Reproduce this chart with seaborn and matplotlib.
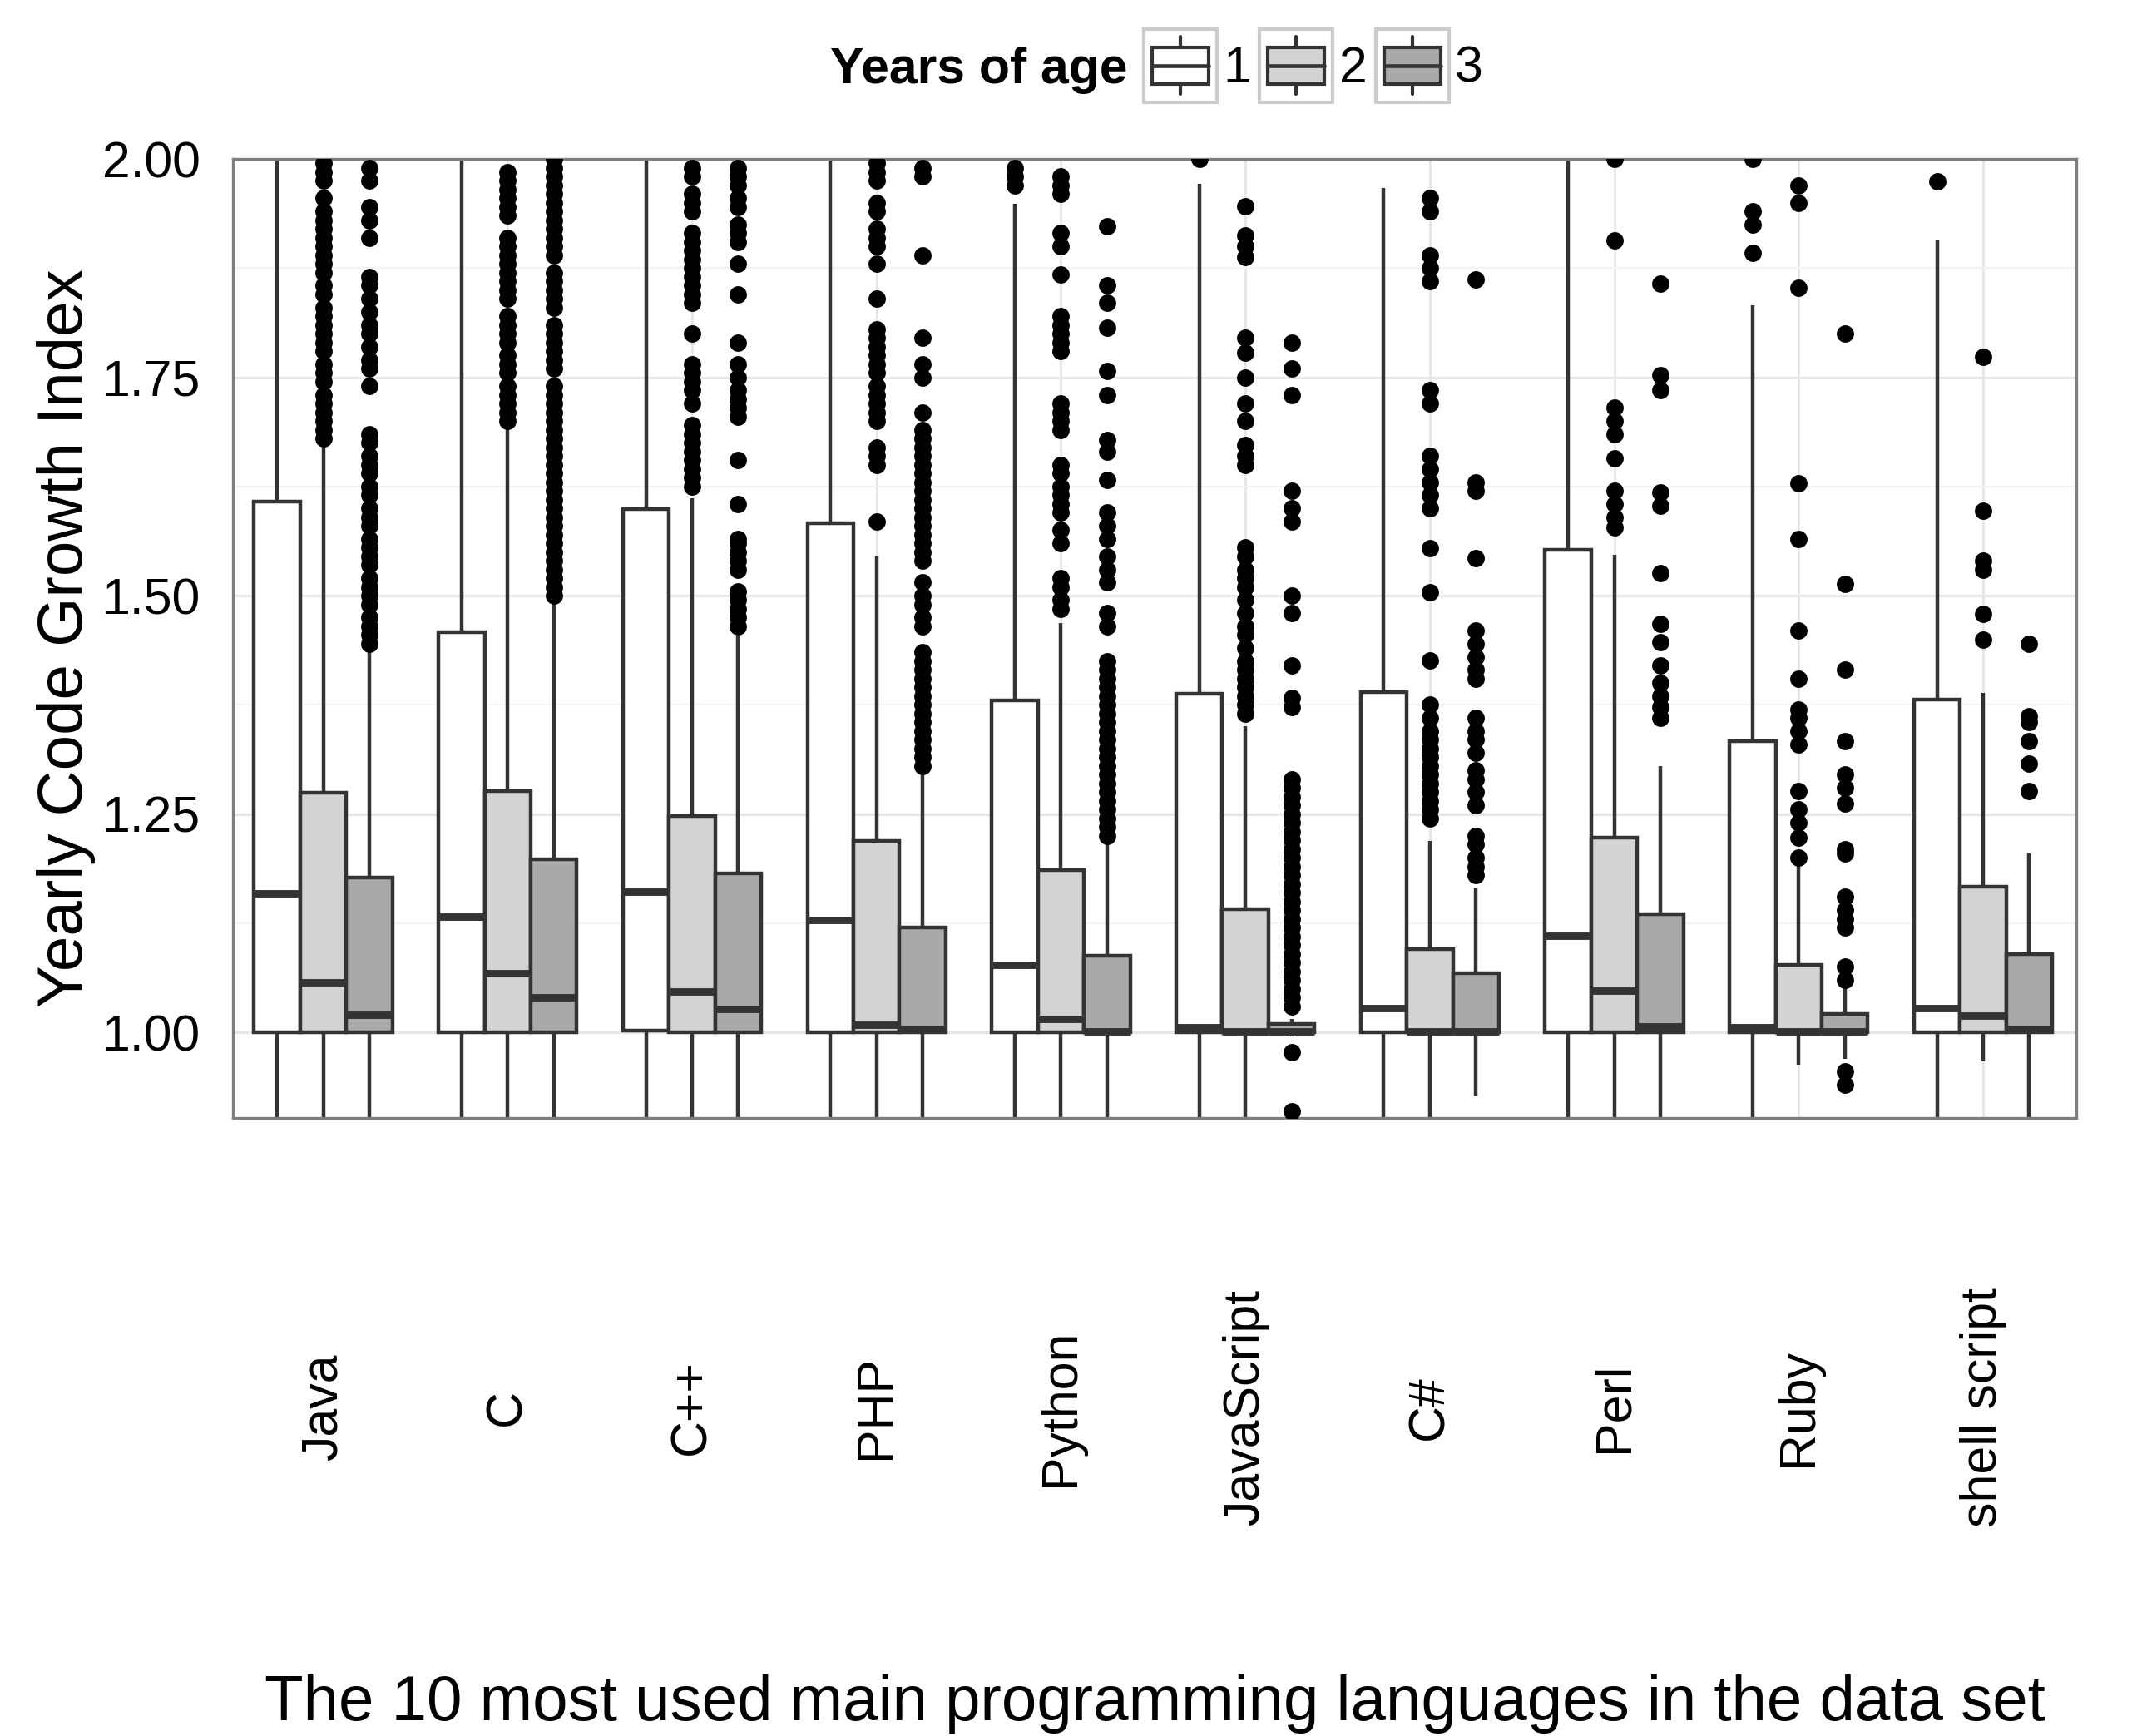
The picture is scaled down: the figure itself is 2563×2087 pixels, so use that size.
"""Yearly code growth index by language and years of age (boxplots)"""
import numpy as np
import pandas as pd
import matplotlib
matplotlib.use("Agg")
import matplotlib.pyplot as plt
from matplotlib.legend_handler import HandlerBase
from matplotlib.patches import Patch, Rectangle
from matplotlib.lines import Line2D
from matplotlib.ticker import MultipleLocator
import seaborn as sns

# ─── data ───
langs = ["Java", "C", "C++", "PHP", "Python", "JavaScript", "C#", "Perl", "Ruby", "shell script"]
ages = ["1", "2", "3"]
fills = ["#FFFFFF", "#D3D3D3", "#A9A9A9"]

# five-number summary per language, [age 1, age 2, age 3]
# (whiskers that leave the visible window are set just outside it)
whis_lo = [[0.85, 0.85, 0.85], [0.85, 0.85, 0.85], [0.85, 0.85, 0.85], [0.85, 0.85, 0.85],
           [0.85, 0.85, 0.85], [0.85, 0.85, 0.995], [0.85, 0.85, 0.927], [0.85, 0.85, 0.85],
           [0.85, 0.963, 0.970], [0.85, 0.967, 0.85]]
q1 = [[1.0, 1.0, 1.0], [1.0, 1.0, 1.0], [1.002, 1.0, 1.0], [1.0, 1.0, 1.0], [1.0, 1.0, 1.0],
      [1.0, 1.0, 1.0], [1.0, 1.0, 1.0], [1.0, 1.0, 1.0], [1.0, 1.0, 1.0], [1.0, 1.0, 1.0]]
med = [[1.159, 1.057, 1.020], [1.132, 1.068, 1.040], [1.161, 1.047, 1.027], [1.129, 1.009, 1.004],
       [1.077, 1.015, 1.001], [1.006, 1.001, 1.001], [1.028, 1.001, 1.001], [1.111, 1.048, 1.007],
       [1.006, 1.001, 1.001], [1.028, 1.019, 1.004]]
q3 = [[1.608, 1.274, 1.177], [1.458, 1.276, 1.198], [1.599, 1.248, 1.182], [1.583, 1.219, 1.120],
      [1.380, 1.186, 1.088], [1.388, 1.141, 1.010], [1.390, 1.095, 1.068], [1.552, 1.223, 1.135],
      [1.333, 1.077, 1.021], [1.381, 1.167, 1.090]]
whis_hi = [[2.05, 1.675, 1.440], [2.05, 1.693, 1.494], [2.05, 1.611, 1.454], [2.05, 1.546, 1.298],
           [1.949, 1.469, 1.216], [1.971, 1.351, 1.015], [1.967, 1.219, 1.166], [2.05, 1.547, 1.305],
           [1.832, 1.191, 1.052], [1.908, 1.389, 1.205]]

# outliers visible inside the window, [age 1, age 2, age 3]
out_java = [[],
            [1.68, 1.69, 1.70, 1.71, 1.72, 1.73, 1.745, 1.755, 1.765, 1.78, 1.79, 1.80, 1.81, 1.82,
             1.83, 1.845, 1.855, 1.87, 1.88, 1.89, 1.90, 1.91, 1.92, 1.93, 1.94, 1.955, 1.975,
             1.985, 1.995],
            [1.445, 1.455, 1.465, 1.475, 1.49, 1.50, 1.51, 1.52, 1.535, 1.545, 1.555, 1.565, 1.58,
             1.59, 1.60, 1.615, 1.625, 1.64, 1.65, 1.66, 1.675, 1.685, 1.74, 1.76, 1.77, 1.785,
             1.80, 1.81, 1.825, 1.84, 1.855, 1.865, 1.91, 1.93, 1.945, 1.975, 1.99]]
out_c = [[],
         [1.70, 1.71, 1.72, 1.73, 1.74, 1.755, 1.765, 1.775, 1.79, 1.80, 1.81, 1.82, 1.84, 1.85,
          1.86, 1.87, 1.88, 1.89, 1.90, 1.91, 1.935, 1.945, 1.955, 1.965, 1.975, 1.985],
         [1.50, 1.51, 1.52, 1.53, 1.54, 1.55, 1.56, 1.57, 1.58, 1.59, 1.60, 1.61, 1.62, 1.63, 1.64,
          1.65, 1.66, 1.67, 1.68, 1.69, 1.70, 1.71, 1.72, 1.73, 1.74, 1.76, 1.77, 1.78, 1.79, 1.80,
          1.81, 1.83, 1.84, 1.85, 1.86, 1.87, 1.89, 1.90, 1.91, 1.92, 1.93, 1.94, 1.95, 1.96,
          1.97, 1.98, 1.99, 2.0]]
out_cpp = [[],
           [1.625, 1.635, 1.645, 1.655, 1.665, 1.675, 1.685, 1.695, 1.72, 1.735, 1.745, 1.755,
            1.765, 1.80, 1.835, 1.845, 1.855, 1.865, 1.875, 1.885, 1.895, 1.905, 1.915, 1.94,
            1.95, 1.96, 1.98, 1.99],
           [1.465, 1.475, 1.485, 1.495, 1.505, 1.53, 1.54, 1.55, 1.56, 1.565, 1.605, 1.655, 1.705,
            1.715, 1.725, 1.735, 1.75, 1.765, 1.79, 1.845, 1.88, 1.905, 1.915, 1.925, 1.945,
            1.955, 1.97, 1.98, 1.99]]
out_php = [[],
           [1.585, 1.65, 1.66, 1.67, 1.70, 1.71, 1.72, 1.73, 1.74, 1.755, 1.765, 1.775, 1.785,
            1.795, 1.805, 1.84, 1.88, 1.90, 1.91, 1.92, 1.94, 1.95, 1.975, 1.985, 1.995],
           [1.305, 1.315, 1.325, 1.335, 1.345, 1.355, 1.365, 1.375, 1.385, 1.395, 1.405, 1.415,
            1.425, 1.435, 1.465, 1.475, 1.49, 1.50, 1.515, 1.54, 1.55, 1.56, 1.57, 1.58, 1.59,
            1.60, 1.61, 1.62, 1.63, 1.64, 1.65, 1.66, 1.67, 1.68, 1.69, 1.71, 1.75, 1.765, 1.795,
            1.89, 1.98, 1.99]]
out_python = [[1.97, 1.98, 1.99],
              [1.485, 1.495, 1.51, 1.52, 1.56, 1.575, 1.595, 1.605, 1.615, 1.625, 1.64, 1.65,
               1.69, 1.70, 1.71, 1.72, 1.78, 1.79, 1.80, 1.81, 1.82, 1.868, 1.90, 1.915, 1.96,
               1.97, 1.98],
              [1.225, 1.235, 1.245, 1.255, 1.265, 1.275, 1.285, 1.295, 1.305, 1.315, 1.325, 1.335,
               1.345, 1.355, 1.365, 1.375, 1.385, 1.395, 1.405, 1.415, 1.425, 1.465, 1.48, 1.515,
               1.53, 1.545, 1.565, 1.58, 1.595, 1.632, 1.665, 1.678, 1.73, 1.757, 1.807, 1.835,
               1.855, 1.923]]
out_js = [[2.0],
          [1.365, 1.375, 1.385, 1.395, 1.405, 1.415, 1.425, 1.44, 1.455, 1.465, 1.48, 1.495, 1.51,
           1.52, 1.53, 1.545, 1.555, 1.65, 1.66, 1.672, 1.70, 1.72, 1.75, 1.778, 1.795, 1.888,
           1.90, 1.912, 1.946],
          [0.91, 0.977, 1.03, 1.04, 1.05, 1.06, 1.07, 1.08, 1.09, 1.10, 1.11, 1.12, 1.13, 1.14,
           1.15, 1.16, 1.17, 1.18, 1.19, 1.20, 1.21, 1.22, 1.23, 1.24, 1.25, 1.26, 1.27, 1.28,
           1.29, 1.372, 1.383, 1.42, 1.48, 1.50, 1.585, 1.60, 1.62, 1.73, 1.76, 1.79]]
out_cs = [[],
          [1.245, 1.255, 1.265, 1.275, 1.285, 1.295, 1.305, 1.315, 1.325, 1.335, 1.345, 1.36,
           1.375, 1.426, 1.504, 1.554, 1.60, 1.615, 1.63, 1.645, 1.66, 1.72, 1.735, 1.86, 1.875,
           1.89, 1.94, 1.955],
          [1.18, 1.19, 1.20, 1.215, 1.225, 1.26, 1.275, 1.29, 1.30, 1.32, 1.335, 1.345, 1.36,
           1.405, 1.415, 1.43, 1.445, 1.46, 1.543, 1.62, 1.63, 1.862]]
out_perl = [[],
            [1.578, 1.59, 1.605, 1.62, 1.657, 1.685, 1.70, 1.715, 1.907, 2.0],
            [1.36, 1.372, 1.385, 1.40, 1.42, 1.447, 1.468, 1.526, 1.603, 1.618, 1.735, 1.752,
             1.857]]
out_ruby = [[1.892, 1.925, 1.94, 2.0],
            [1.20, 1.223, 1.24, 1.255, 1.276, 1.33, 1.345, 1.36, 1.37, 1.405, 1.46, 1.565, 1.629,
             1.852, 1.95, 1.97],
            [0.94, 0.955, 1.06, 1.075, 1.12, 1.13, 1.14, 1.155, 1.205, 1.21, 1.262, 1.28, 1.295,
             1.333, 1.415, 1.513, 1.80]]
out_shell = [[1.974],
             [1.45, 1.479, 1.53, 1.54, 1.597, 1.773],
             [1.276, 1.308, 1.333, 1.355, 1.362, 1.445]]
outliers = [out_java, out_c, out_cpp, out_php, out_python, out_js, out_cs, out_perl,
            out_ruby, out_shell]

# ─── long tables for seaborn ───
BOX_WIDTH = 0.75  # dodge width shared by the three ages
rows = []
for i, lang in enumerate(langs):
    for j, age in enumerate(ages):
        for v in (whis_lo[i][j], q1[i][j], med[i][j], q3[i][j], whis_hi[i][j]):
            rows.append((lang, age, v))
box_df = pd.DataFrame(rows, columns=["lang", "age", "value"])

step = BOX_WIDTH / len(ages)
frows = []
for i, lang in enumerate(langs):
    for j, age in enumerate(ages):
        for v in outliers[i][j]:
            frows.append((lang, age, v, i + (j - 1) * step))
flier_df = pd.DataFrame(frows, columns=["lang", "age", "value", "xpos"])

# ─── style ───
sns.set_style("white")
plt.rcParams["font.family"] = ["Liberation Sans", "DejaVu Sans"]
plt.rcParams["text.color"] = "black"
plt.rcParams["axes.labelcolor"] = "black"
plt.rcParams["xtick.color"] = "black"
plt.rcParams["ytick.color"] = "black"
LINE = "#333333"
BASE = 14.6

fig = plt.figure(figsize=(2563 / 300, 2087 / 300), dpi=300)
ax = fig.add_axes([280 / 2563, 1 - 1344 / 2087, 2216 / 2563, 1153 / 2087])

sns.boxplot(data=box_df, x="lang", y="value", hue="age", order=langs, hue_order=ages,
            palette=dict(zip(ages, fills)), saturation=1, width=BOX_WIDTH, gap=0,
            whis=np.inf, showcaps=False, showfliers=False, linecolor=LINE, linewidth=1.07,
            medianprops={"linewidth": 2.13, "color": LINE}, legend=False, ax=ax)
sns.scatterplot(data=flier_df, x="xpos", y="value", color="black", s=25, linewidth=0,
                legend=False, ax=ax, zorder=4)

ax.set_xlim(-0.49, 9.505)
ax.set_ylim(0.902, 2.0)
ax.set_xticks(range(len(langs)))
ax.set_xticklabels(langs, rotation=90, va="center", ha="center", fontsize=BASE, color="black")
ax.set_yticks([1.0, 1.25, 1.5, 1.75, 2.0])
ax.set_yticklabels([f"{t:.2f}" for t in [1.0, 1.25, 1.5, 1.75, 2.0]], fontsize=BASE,
                   color="black")
ax.yaxis.set_minor_locator(MultipleLocator(0.125))
ax.set_xlabel("")
ax.set_ylabel("")

ax.set_axisbelow(True)
ax.grid(which="major", axis="both", color="#E6E6E6", linewidth=0.7)
ax.grid(which="minor", axis="y", color="#F3F3F3", linewidth=0.5)
for s in ax.spines.values():
    s.set_color("#7F7F7F")
    s.set_linewidth(0.8)
ax.tick_params(which="major", length=4.5, width=1.0, color=LINE, labelcolor="black")
ax.tick_params(axis="y", which="major", pad=5)
ax.tick_params(axis="x", which="major", pad=79)
ax.tick_params(which="minor", length=0)

# axis titles
fig.text(79.5 / 2563, 1 - 767 / 2087, "Yearly Code Growth Index", rotation=90,
         ha="center", va="center", fontsize=18.3, color="black")
fig.text(1388 / 2563, 1 - 2068 / 2087,
         "The 10 most used main programming languages in the data set",
         ha="center", va="baseline", fontsize=18.3, color="black")


# ─── legend with boxplot keys ───
class BoxKey(HandlerBase):
    def create_artists(self, legend, orig_handle, xdescent, ydescent, width, height,
                       fontsize, trans):
        side = 21.1
        cx = width / 2 - xdescent
        cy = height / 2 - ydescent
        x0, y0 = cx - side / 2, cy - side / 2
        frame = Rectangle((x0, y0), side, side, facecolor="white", edgecolor="#CCCCCC",
                          linewidth=1.0)
        box = Rectangle((x0 + 0.114 * side, y0 + 0.245 * side), 0.772 * side, 0.51 * side,
                        facecolor=orig_handle.get_facecolor(), edgecolor=LINE, linewidth=1.0)
        medline = Line2D([x0 + 0.114 * side, x0 + 0.886 * side], [cy, cy], color=LINE,
                         linewidth=1.1)
        w_lo = Line2D([cx, cx], [y0 + 0.11 * side, y0 + 0.245 * side], color=LINE, linewidth=1.0)
        w_hi = Line2D([cx, cx], [y0 + 0.755 * side, y0 + 0.9 * side], color=LINE, linewidth=1.0)
        arts = [frame, box, medline, w_lo, w_hi]
        for a in arts:
            a.set_transform(trans)
        return arts


handles = [Patch(facecolor=c) for c in fills]
leg = fig.legend(handles, ages, handler_map={Patch: BoxKey()}, loc="center left",
                 bbox_to_anchor=(1375 / 2563, 1 - 79 / 2087), ncol=3, frameon=False,
                 fontsize=BASE, handlelength=21.1 / BASE, handleheight=1.85,
                 handletextpad=0.12, columnspacing=0.17, borderpad=0, borderaxespad=0)
for t in leg.get_texts():
    t.set_color("black")
fig.text(1355 / 2563, 1 - 100 / 2087, "Years of age", ha="right", va="baseline",
         fontsize=BASE, fontweight="bold", color="black")

fig.savefig("out.png", dpi=300)
print("saved out.png")
